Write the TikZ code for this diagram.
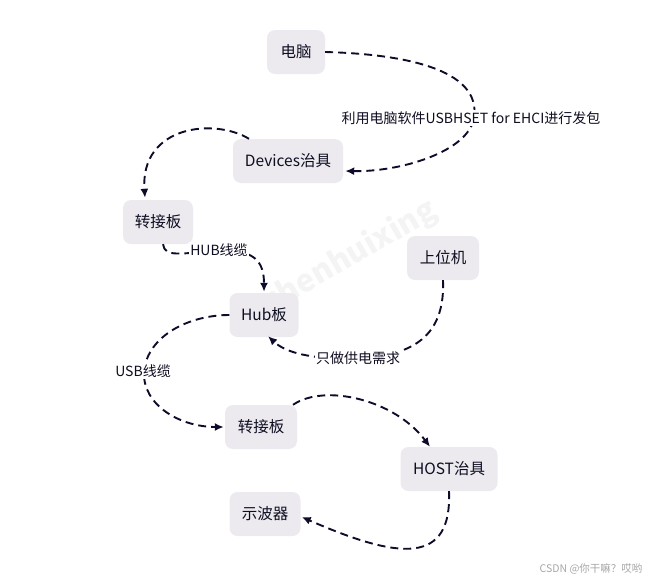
\documentclass[tikz,border=0pt]{standalone}
\usepackage{fontspec}
\newfontfamily\cjk{Noto Sans CJK SC}
\usetikzlibrary{arrows.meta}
\definecolor{boxfill}{HTML}{ECEAEF}
\definecolor{ink}{HTML}{0D0D2B}
\definecolor{txt}{HTML}{0E0E22}
\tikzset{
  box/.style={draw=none, fill=boxfill, rounded corners=8pt, minimum height=44pt,
    inner sep=0pt, font=\cjk\fontsize{15.5}{18}\selectfont, text=txt},
  conn/.style={draw=ink, line width=1.9pt, dash pattern=on 8pt off 5pt,
    -{Latex[length=9pt,width=8pt]}},
  lbl/.style={fill=white, inner sep=1.5pt, font=\cjk\fontsize{14}{16}\selectfont, text=txt}
}
\begin{document}
\begin{tikzpicture}[x=1pt,y=-1pt]
\useasboundingbox (0,0) rectangle (653,584);
% watermark
\node[rotate=30, text=gray!9, font=\cjk\bfseries\fontsize{31}{34}\selectfont] (wm) at (350,257) {chenhuixing};
\node[text=gray!70, font=\cjk\fontsize{10.5}{12}\selectfont, anchor=east] (csdn) at (646,569) {CSDN @你干嘛？哎哟};
% nodes
\node[box, minimum width=58pt] (pc) at (296,52) {电脑};
\node[box, minimum width=110pt] (dev) at (288,161) {Devices治具};
\node[box, minimum width=70pt] (zj1) at (158,222) {转接板};
\node[box, minimum width=72pt] (sw) at (443,258) {上位机};
\node[box, minimum width=69pt] (hub) at (264,315) {Hub板};
\node[box, minimum width=72pt] (zj2) at (261,427) {转接板};
\node[box, minimum width=97pt] (host) at (449,469) {HOST治具};
\node[box, minimum width=71pt] (osc) at (265,514) {示波器};
% connectors
\draw[conn] (pc.east) .. controls (400,54) and (482,68) .. (474,118)
  .. controls (468,152) and (400,172) .. ([yshift=-10pt,xshift=2pt]dev.east);
\node[lbl] (l1) at (471,118) {利用电脑软件USBHSET for EHCI进行发包};
\draw[conn] ([xshift=-39pt]dev.north) .. controls (215,118) and (140,125) .. ([xshift=-13pt,yshift=2pt]zj1.north);
\draw[conn] ([xshift=5pt]zj1.south) .. controls (165,258) and (180,253) .. (219,251)
  .. controls (255,249) and (264,262) .. ([yshift=1pt]hub.north);
\node[lbl] (l2) at (219,250) {HUB线缆};
\draw[conn] (hub.west) .. controls (190,315) and (148,335) .. (144,371)
  .. controls (142,405) and (180,427) .. ([xshift=-1pt]zj2.west);
\node[lbl] (l3) at (143,371) {USB线缆};
\draw[conn] (sw.south) .. controls (445,330) and (420,356) .. (358,358)
  .. controls (310,360) and (285,352) .. ([xshift=4pt,yshift=1pt]hub.south);
\node[lbl] (l4) at (358,358) {只做供电需求};
\draw[conn] ([xshift=32pt]zj2.north) .. controls (325,383) and (395,400) .. ([xshift=-19pt]host.north);
\draw[conn] (host.south) .. controls (452,565) and (400,560) .. ([yshift=-3pt,xshift=1pt]osc.east);
\end{tikzpicture}
\end{document}
